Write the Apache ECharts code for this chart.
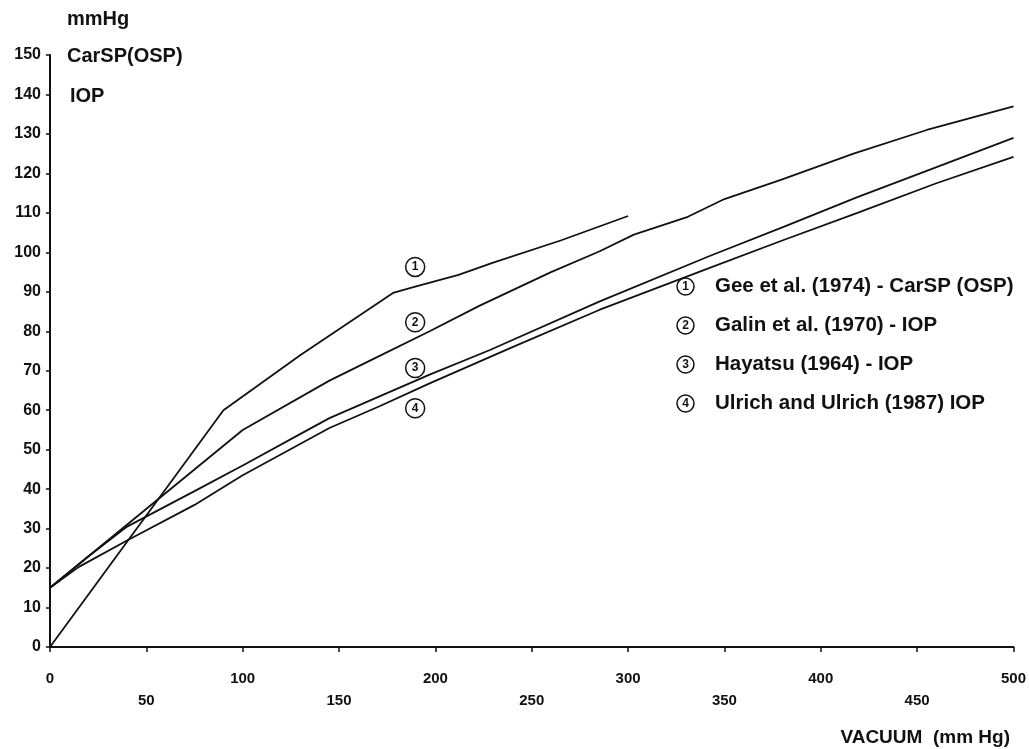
<!DOCTYPE html>
<html>
<head>
<meta charset="utf-8">
<script src="https://cdn.jsdelivr.net/npm/echarts@6/dist/echarts.min.js"></script>
<style>
html,body{margin:0;padding:0;background:#fff;}
#c{width:1029px;height:749px;}
</style>
</head>
<body>
<div id="c"></div>
<script>
// ---- data (x = vacuum mmHg, y = pressure mmHg) ----
const seriesNames = [
  'Gee et al. (1974) - CarSP (OSP)',
  'Galin et al. (1970) - IOP',
  'Hayatsu (1964) - IOP',
  'Ulrich and Ulrich (1987) IOP'
];
const curveLabelNums = ['1','2','3','4'];
const gee = [[0,0],[90,60],[130,74],[178,89.7],[190,91.4],[212,94.3],[230,97.4],[265,103],[300,109.2]];
const galin = [[0,15],[100,55],[145,67.5],[170,73.5],[197,80],[223,86.5],[260,95],[285,100.2],[303,104.5],[331,109],[350,113.5],[380,118.5],[417,125],[455,131],[500,137]];
const hayatsu = [[0,15],[20,23],[40,30.5],[75,39.5],[100,46],[130,54],[145,58],[171,63.5],[197,69],[228,75.2],[285,87.5],[342,99],[381,106.5],[419,114],[457,121],[500,129]];
const ulrich = [[0,15],[15,20.3],[40,27],[75,36],[100,43.5],[130,51.5],[145,55.5],[171,61],[197,66.8],[240,76],[285,85.4],[342,96],[380,103],[419,110],[460,117.5],[500,124.2]];
const curveLabelCoords = [[189.5,96.3],[189.5,82.3],[189.5,70.7],[189.5,60.5]];
const xMin = 0, xMax = 500, xStep = 50;
const yMin = 0, yMax = 150, yStep = 10;

const allData = [gee, galin, hayatsu, ulrich];
const FONT = '"Liberation Sans", Arial, sans-serif';

const chart = echarts.init(document.getElementById('c'), null, {renderer:'canvas'});

const series = allData.map((d, i) => ({
  name: seriesNames[i],
  type: 'line',
  data: d,
  showSymbol: false,
  symbol: 'none',
  lineStyle: {color:'#111', width:1.8},
  itemStyle: {color:'#111'},
  animation: false,
  markPoint: {
    symbol: 'circle',
    symbolSize: 19,
    itemStyle: {color:'#fff', borderColor:'#111', borderWidth:1.5},
    label: {show:true, formatter: curveLabelNums[i], color:'#111', fontSize:12, fontWeight:'bold', fontFamily: FONT},
    data: [{coord: curveLabelCoords[i]}]
  }
}));

chart.setOption({
  backgroundColor: '#fff',
  animation: false,
  grid: {left:50, right:13, top:55, bottom:102, containLabel:false},
  xAxis: {
    type: 'value', min: xMin, max: xMax, interval: xStep,
    axisLine: {show:true, lineStyle:{color:'#111', width:2}},
    axisTick: {show:true, length:5, lineStyle:{color:'#111', width:1.5}},
    splitLine: {show:false},
    axisLabel: {
      margin: 21, color:'#111', fontSize:15, fontWeight:'bold', fontFamily: FONT,
      lineHeight: 22, verticalAlign: 'top',
      formatter: v => (v % 100 === 0 ? String(v) : '\n' + v)
    }
  },
  yAxis: {
    type: 'value', min: yMin, max: yMax, interval: yStep,
    axisLine: {show:true, lineStyle:{color:'#111', width:2}},
    axisTick: {show:true, length:4, lineStyle:{color:'#111', width:1.5}},
    splitLine: {show:false},
    axisLabel: {margin:9, color:'#111', fontSize:16, fontWeight:'bold', fontFamily: FONT}
  },
  legend: {
    show: true, orient:'vertical', left: 667, top: 271,
    icon: 'none', itemWidth: 0, itemGap: 18, selectedMode: false,
    data: seriesNames,
    formatter: name => '{c|' + curveLabelNums[seriesNames.indexOf(name)] + '}{s|}{t|' + name + '}',
    textStyle: {
      color:'#111',
      rich: {
        c: {fontFamily: FONT, fontSize:12, fontWeight:'bold', width:17, height:17, lineHeight:17,
            align:'center', borderColor:'#111', borderWidth:1.5, borderRadius:10, color:'#111'},
        s: {width:21},
        t: {fontFamily: FONT, fontSize:20.5, fontWeight:'bold', color:'#111'}
      }
    }
  },
  graphic: [
    {type:'text', x:67, y:19, style:{text:'mmHg', font:'bold 20px ' + FONT, fill:'#111', textVerticalAlign:'middle'}},
    {type:'text', x:67, y:56, style:{text:'CarSP(OSP)', font:'bold 20px ' + FONT, fill:'#111', textVerticalAlign:'middle'}},
    {type:'text', x:70, y:96, style:{text:'IOP', font:'bold 20px ' + FONT, fill:'#111', textVerticalAlign:'middle'}},
    {type:'text', x:1010, y:738, style:{text:'VACUUM  (mm Hg)', font:'bold 19px ' + FONT, fill:'#111', textAlign:'right', textVerticalAlign:'middle'}}
  ],
  series: series
});
</script>
</body>
</html>
